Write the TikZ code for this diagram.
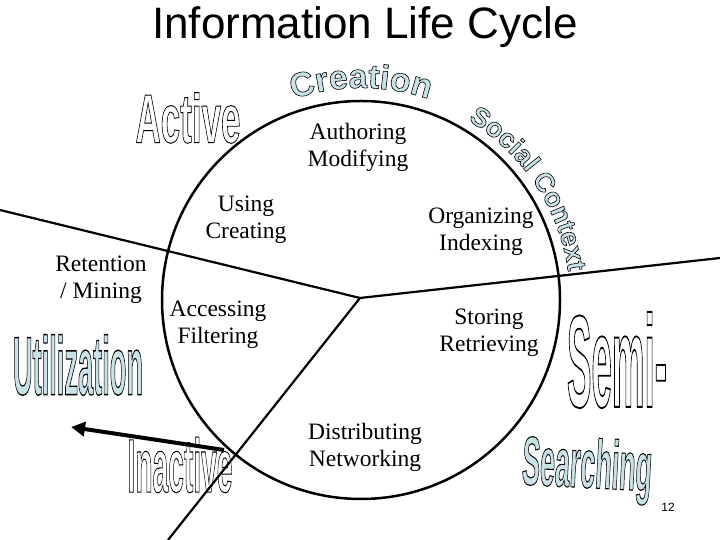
\documentclass[tikz,border=0pt]{standalone}
\usepackage{fontspec}
\setmainfont{Liberation Serif}
\newfontfamily\arialf{Liberation Sans}
\newfontfamily\waf{Liberation Sans}[FakeStretch=0.85]
\usetikzlibrary{decorations.text,arrows.meta}
\definecolor{wablue}{RGB}{200,226,232}
\newcommand{\outl}[1]{\special{pdf:code 1 Tr 0.7 w}#1\special{pdf:code 0 Tr}}
\newcommand{\filo}[1]{{\color{wablue}\special{pdf:code 0 G 2 Tr 0.8 w}#1\special{pdf:code 0 Tr}}}
\newcommand{\cfmt}{\color{wablue}\special{pdf:code 0 G 2 Tr 0.6 w}}
\newcommand{\wabox}[3]{\resizebox{#1}{#2}{\waf\bfseries\fontsize{50}{50}\selectfont #3}}
\tikzset{lbl/.style={align=center,font=\fontsize{23.5}{27}\selectfont,inner sep=0pt},
  wire/.style={line width=2.2pt}}
\begin{document}
\begin{tikzpicture}[x=1pt,y=1pt]
\useasboundingbox (0,0) rectangle (720,540);
\node[font=\arialf\fontsize{44}{48}\selectfont] (title) at (365,513) {Information Life Cycle};
\node[font=\arialf\fontsize{12}{14}\selectfont] (num) at (668,33) {12};
\coordinate (C) at (361,240);
\node[circle,draw,line width=2.5pt,minimum size=398pt,inner sep=0pt] (circ) at (C) {};
\coordinate (J) at (360,242);
\coordinate (L) at (0,330);
\coordinate (R) at (720,282);
\coordinate (B) at (168,0);
\coordinate (A0) at (224,90);
\coordinate (A1) at (71,113);
\draw[wire] (L) -- (J) -- (R);
\draw[wire] (J) -- (B);
\draw[line width=4pt,-{Triangle[length=14pt,width=14pt]}] (A0) -- (A1);
\node[lbl] (auth) at (358,393) {Authoring\\Modifying};
\node[lbl] (use) at (246,320) {Using\\Creating};
\node[lbl] (org) at (481,308) {Organizing\\Indexing};
\node[lbl] (ret) at (101,260) {Retention\\/ Mining};
\node[lbl] (acc) at (218,215) {Accessing\\Filtering};
\node[lbl] (sto) at (489,207) {Storing\\Retrieving};
\node[lbl] (dis) at (365,93) {Distributing\\Networking};
\node[inner sep=0pt] (active) at (188,422) {\wabox{105pt}{50pt}{\outl{Active}}};
\node[inner sep=0pt] (util) at (78,175) {\wabox{130pt}{60pt}{\filo{Utilization}}};
\node[inner sep=0pt] (inact) at (180,75) {\wabox{105pt}{55pt}{\outl{Inactive}}};
\node[inner sep=0pt] (semi) at (617,180) {\wabox{100pt}{95pt}{\outl{Semi-}}};
\node[inner sep=0pt,rotate=-3] (search) at (587,70) {\wabox{130pt}{50pt}{\filo{Searching}}};
\path[decorate,decoration={text along path,text align=center,
  text={|\arialf\bfseries\fontsize{34}{34}\selectfont\cfmt|Creation}}]
  (C) ++(107:212) arc[start angle=107,end angle=73,radius=212];
\path[decorate,decoration={text along path,text align=center,
  text={|\arialf\bfseries\fontsize{27}{27}\selectfont\cfmt|Social Context}}]
  (C) ++(58:209) arc[start angle=58,end angle=9,radius=209];
\end{tikzpicture}
\end{document}
